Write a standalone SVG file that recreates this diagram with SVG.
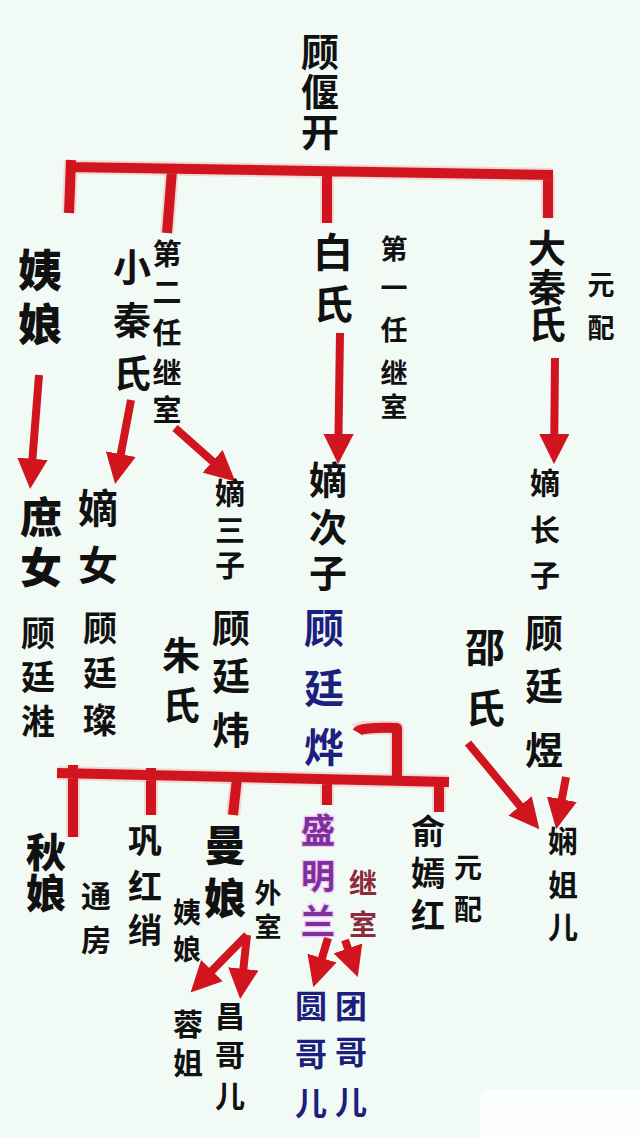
<svg xmlns="http://www.w3.org/2000/svg" width="640" height="1138" viewBox="0 0 640 1138">
<style>
text{font-family:"Noto Sans CJK SC","Noto Sans CJK TC",sans-serif;font-weight:700;fill:#111;text-anchor:middle}
.h{font-weight:900}
.blue{fill:#1c1f7e}
.pur{fill:#7d2f9c;stroke:#efc2f3;stroke-width:2.5;paint-order:stroke}
.dred{fill:#8c2b3c}
.bar{fill:none;stroke:#d0151e;stroke-width:10;stroke-linejoin:round}
.glow{fill:none;stroke:#f3a3a6;stroke-width:14;stroke-linejoin:round;opacity:.4}
.arr{fill:none;stroke:#d0151e;stroke-width:8;marker-end:url(#ah)}
</style>
<defs>
<marker id="ah" viewBox="0 0 10 10" refX="7" refY="5" markerWidth="3.8" markerHeight="3.8" orient="auto">
<path d="M0,0 L10,5 L0,10 z" fill="#d0151e"/>
</marker>
</defs>
<rect width="640" height="1138" fill="#f1faf5"/>
<rect x="480" y="1090" width="170" height="60" rx="6" fill="#fdfefe"/>

<g id="connectors">
<path class="glow" d="M68,167 L553,175 M71,160 L69,213 M172,170 L167,233 M327,172 L327,223 M548,175 L548,218 M57,773 L449,782 M73,765 L73,837 M151,768 L151,815 M237,778 L233,815 M327,779 L327,805 M439,781 L439,812 M357,730 Q360,727 397,728 L397,780"/>
<path class="bar" d="M68,167 L553,175 M71,160 L69,213 M172,170 L167,233 M327,172 L327,223 M548,175 L548,218"/>
<path class="bar" d="M57,773 L449,782 M73,765 L73,837 M151,768 L151,815 M237,778 L233,815 M327,779 L327,805 M439,781 L439,812"/>
<path class="bar" d="M357,732 Q360,727 397,728 L397,780"/>
<path class="arr" d="M39,375 L30.8,480"/>
<path class="arr" d="M131,400 L116.8,475"/>
<path class="arr" d="M175,428 L228.5,475.4"/>
<path class="arr" d="M340,333 L338.2,455"/>
<path class="arr" d="M555,358 L554.1,455"/>
<path class="arr" d="M468,743 L533.6,822.3"/>
<path class="arr" d="M566,777 L557.9,820.2"/>
<path class="arr" d="M247,935 L197,985.9"/>
<path class="arr" d="M247,935 L241.1,990"/>
<path class="arr" d="M328,938 L315.9,978.4"/>
<path class="arr" d="M345,940 L354.8,968.5"/>
</g>

<g id="gu-yankai"><text font-size="38"><tspan x="320" y="66">顾</tspan><tspan x="320" y="106">偃</tspan><tspan x="320" y="146">开</tspan></text></g>
<g id="yiniang"><text class="h" font-size="44"><tspan x="40" y="287">姨</tspan><tspan x="40" y="341">娘</tspan></text></g>
<g id="xiaoqinshi"><text font-size="38"><tspan x="132" y="281">小</tspan><tspan x="132" y="334">秦</tspan><tspan x="132" y="387">氏</tspan></text>
<text font-size="29"><tspan x="167" y="265">第</tspan><tspan x="167" y="303">二</tspan><tspan x="167" y="344">任</tspan><tspan x="167" y="384">继</tspan><tspan x="167" y="421">室</tspan></text></g>
<g id="baishi"><text font-size="40"><tspan x="333" y="267">白</tspan><tspan x="333" y="319">氏</tspan></text>
<text font-size="27"><tspan x="394" y="259">第</tspan><tspan x="394" y="298">一</tspan><tspan x="394" y="340">任</tspan><tspan x="394" y="383">继</tspan><tspan x="394" y="417">室</tspan></text></g>
<g id="daqinshi"><text font-size="38"><tspan x="547" y="262">大</tspan><tspan x="547" y="301">秦</tspan><tspan x="547" y="338">氏</tspan></text>
<text font-size="27"><tspan x="601" y="295">元</tspan><tspan x="601" y="338">配</tspan></text></g>

<g id="shunv"><text class="h" font-size="42"><tspan x="41" y="533">庶</tspan><tspan x="41" y="583">女</tspan></text>
<text font-size="34"><tspan x="38" y="646">顾</tspan><tspan x="38" y="690">廷</tspan><tspan x="38" y="734">溎</tspan></text></g>
<g id="dinv"><text font-size="40"><tspan x="98" y="523">嫡</tspan><tspan x="98" y="580">女</tspan></text>
<text font-size="34"><tspan x="100" y="641">顾</tspan><tspan x="100" y="686">廷</tspan><tspan x="100" y="733">璨</tspan></text></g>
<g id="disanzi"><text font-size="30"><tspan x="230" y="504">嫡</tspan><tspan x="230" y="541">三</tspan><tspan x="230" y="576">子</tspan></text>
<text font-size="38"><tspan x="231" y="642">顾</tspan><tspan x="231" y="690">廷</tspan><tspan x="231" y="744">炜</tspan></text></g>
<g id="zhushi"><text font-size="38"><tspan x="181" y="669">朱</tspan><tspan x="181" y="719">氏</tspan></text></g>
<g id="diercizi"><text font-size="38"><tspan x="328" y="494">嫡</tspan><tspan x="328" y="541">次</tspan><tspan x="328" y="587">子</tspan></text>
<text class="blue" font-size="40"><tspan x="324" y="643">顾</tspan><tspan x="324" y="703">廷</tspan><tspan x="324" y="762">烨</tspan></text></g>
<g id="shaoshi"><text font-size="40"><tspan x="485" y="662">邵</tspan><tspan x="485" y="723">氏</tspan></text></g>
<g id="dizhangzi"><text font-size="30"><tspan x="545" y="494">嫡</tspan><tspan x="545" y="541">长</tspan><tspan x="545" y="586">子</tspan></text>
<text font-size="38"><tspan x="544" y="647">顾</tspan><tspan x="544" y="700">廷</tspan><tspan x="544" y="764">煜</tspan></text></g>

<g id="qiuniang"><text class="h" font-size="40"><tspan x="46" y="867">秋</tspan><tspan x="46" y="908">娘</tspan></text>
<text font-size="30"><tspan x="96" y="907">通</tspan><tspan x="96" y="951">房</tspan></text></g>
<g id="gonghongxiao"><text font-size="34"><tspan x="145" y="853">巩</tspan><tspan x="145" y="899">红</tspan><tspan x="145" y="943">绡</tspan></text></g>
<g id="manniang"><text class="h" font-size="42"><tspan x="225" y="861">曼</tspan><tspan x="225" y="914">娘</tspan></text>
<text font-size="28"><tspan x="187" y="923">姨</tspan><tspan x="187" y="960">娘</tspan></text>
<text font-size="27"><tspan x="268" y="903">外</tspan><tspan x="268" y="937">室</tspan></text></g>
<g id="shengminglan"><text class="pur" font-size="34"><tspan x="318" y="843">盛</tspan><tspan x="318" y="889">明</tspan><tspan x="318" y="934">兰</tspan></text>
<text class="dred" font-size="28"><tspan x="363" y="894">继</tspan><tspan x="363" y="935">室</tspan></text></g>
<g id="yuyanhong"><text font-size="34"><tspan x="428" y="844">俞</tspan><tspan x="428" y="886">嫣</tspan><tspan x="428" y="928">红</tspan></text>
<text font-size="28"><tspan x="468" y="878">元</tspan><tspan x="468" y="920">配</tspan></text></g>
<g id="xianjieer"><text font-size="30"><tspan x="563" y="852">娴</tspan><tspan x="563" y="896">姐</tspan><tspan x="563" y="938">儿</tspan></text></g>
<g id="rongjie"><text font-size="30"><tspan x="188" y="1035">蓉</tspan><tspan x="188" y="1074">姐</tspan></text></g>
<g id="changgeer"><text font-size="30"><tspan x="230" y="1027">昌</tspan><tspan x="230" y="1066">哥</tspan><tspan x="230" y="1107">儿</tspan></text></g>
<g id="yuangeer"><text class="blue" font-size="32"><tspan x="311" y="1018">圆</tspan><tspan x="311" y="1066">哥</tspan><tspan x="311" y="1115">儿</tspan></text></g>
<g id="tuangeer"><text class="blue" font-size="32"><tspan x="351" y="1018">团</tspan><tspan x="351" y="1064">哥</tspan><tspan x="351" y="1114">儿</tspan></text></g>
</svg>
